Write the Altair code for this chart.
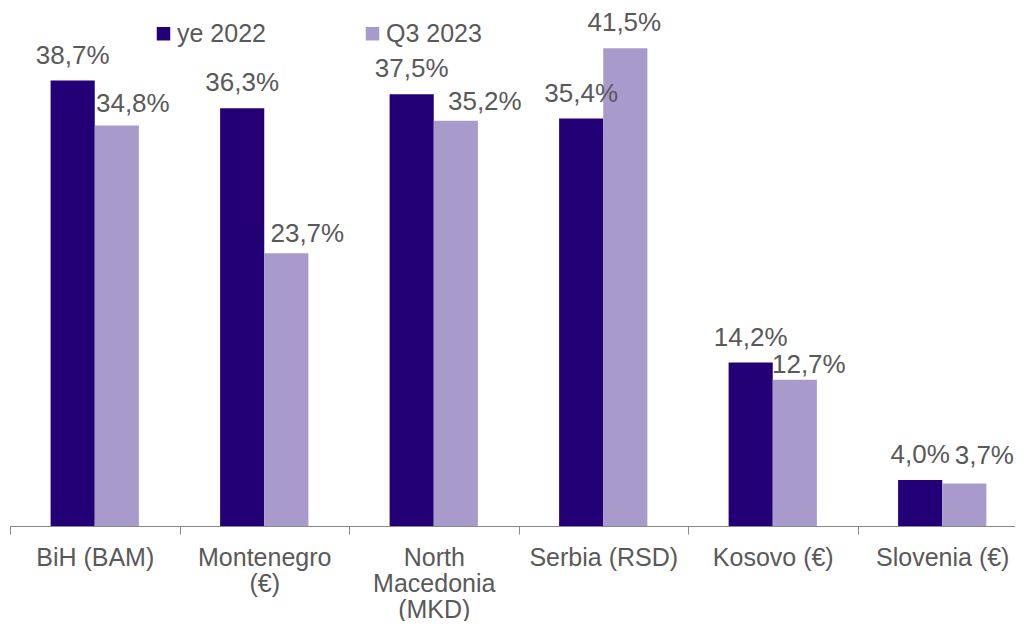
import altair as alt
import pandas as pd

categories = ["BiH (BAM)", "Montenegro|(€)", "North|Macedonia|(MKD)", "Serbia (RSD)", "Kosovo (€)", "Slovenia (€)"]
series = ["ye 2022", "Q3 2023"]
ye_2022 = [38.7, 36.3, 37.5, 35.4, 14.2, 4.0]
q3_2023 = [34.8, 23.7, 35.2, 41.5, 12.7, 3.7]

rows = []
for c, a, b in zip(categories, ye_2022, q3_2023):
    rows.append({"category": c, "series": series[0], "value": a})
    rows.append({"category": c, "series": series[1], "value": b})
df = pd.DataFrame(rows)

colors = ["#230075", "#A89BCB"]
font = "Liberation Sans"
gray = "#595959"
axis_gray = "#898989"

# label nudges (style only) for the Q3 2023 labels, as placed in the original chart
q3_label_nudge = [(16, -13), (21, -11), (29, -11), (-1, -17), (14, -7), (20, -19)]

x = alt.X(
    "category:N", sort=categories,
    scale=alt.Scale(paddingInner=0, paddingOuter=0, range=[0, 1017]),
    axis=alt.Axis(title=None,
                  labelExpr="isValid(datum.value) ? split(datum.value, '|') : ''",
                  labelAngle=0, labelFont=font, labelFontSize=25, labelColor=gray,
                  labelLineHeight=26, labelPadding=11, tickBand="extent", tickSize=8,
                  tickColor=axis_gray, domainColor=axis_gray, labelBaseline="top"),
)
xo = alt.XOffset("series:N", sort=series, scale=alt.Scale(paddingOuter=0.92, paddingInner=0))
y = alt.Y("value:Q", scale=alt.Scale(domain=[0, 45], nice=False, zero=True), axis=None)

base = alt.Chart(df).transform_calculate(
    lbl="replace(format(datum.value, '.1f'), '.', ',') + '%'"
)

bars = base.mark_bar().encode(
    x=x, xOffset=xo, y=y,
    color=alt.Color("series:N", sort=series,
                    scale=alt.Scale(domain=series, range=colors),
                    legend=alt.Legend(orient="none", legendX=141, legendY=13, direction="horizontal",
                                      title=None, symbolType="square", symbolSize=182,
                                      labelFont=font, labelFontSize=25, labelColor=gray,
                                      columnPadding=94, symbolStrokeWidth=0, labelOffset=1,
                                      padding=0)),
)

layers = [bars]
layers.append(base.transform_filter(alt.datum.series == series[0]).mark_text(
    font=font, fontSize=26, color=gray, baseline="alphabetic", dy=-17
).encode(x=x, xOffset=xo, y=y, text="lbl:N"))

for cat, (ddx, ddy) in zip(categories, q3_label_nudge):
    layers.append(base.transform_filter(
        (alt.datum.series == series[1]) & (alt.datum.category == cat)
    ).mark_text(
        font=font, fontSize=26, color=gray, baseline="alphabetic", dx=ddx, dy=ddy
    ).encode(x=x, xOffset=xo, y=y, text="lbl:N"))

chart = alt.layer(*layers).properties(
    width=1005, height=518,
    autosize=alt.AutoSizeParams(type="none"),
    padding={"left": 2, "top": 0, "right": 0, "bottom": 95},
).configure_view(stroke=None)

chart.save("out.html", embed_options={"renderer": "svg", "actions": False})
